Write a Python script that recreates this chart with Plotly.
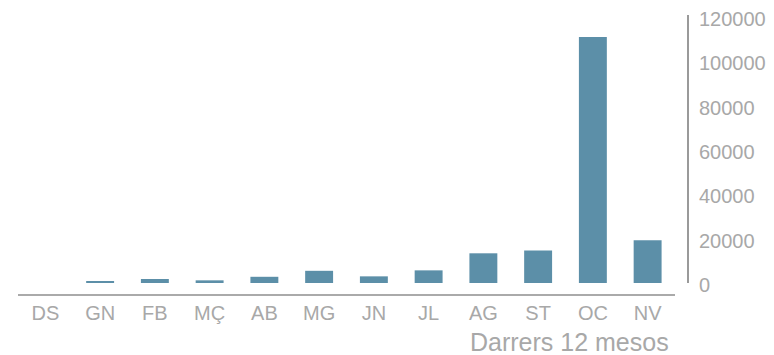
import plotly.graph_objects as go

# Monthly totals for the last twelve months
months = ["DS", "GN", "FB", "MÇ", "AB", "MG", "JN", "JL", "AG", "ST", "OC", "NV"]
values = [0, 500, 1800, 1200, 2800, 5500, 3000, 5700, 13400, 14700, 111000, 19300]
y_ticks = [0, 20000, 40000, 60000, 80000, 100000, 120000]

W, H = 774, 355
ML, MR, MT, MB = 18, 84, 15, 60
plot_w = W - ML - MR
plot_h = H - MT - MB

FONT = "Liberation Sans"
GREY = "#a8a8a8"

fig = go.Figure(
    go.Bar(
        x=months,
        y=values,
        marker=dict(color="#5c8fa8", line=dict(width=0)),
        width=0.51,
    )
)

fig.update_layout(
    template="none",
    width=W,
    height=H,
    margin=dict(l=ML, r=MR, t=MT, b=MB, pad=0),
    paper_bgcolor="white",
    plot_bgcolor="white",
    showlegend=False,
    font=dict(family=FONT, color=GREY, size=20),
    xaxis=dict(
        domain=[0, 657 / plot_w],
        anchor="free",
        position=0,
        automargin=False,
        showline=True,
        linecolor="#aaaaaa",
        linewidth=2,
        showgrid=False,
        zeroline=False,
        ticks="",
        tickfont=dict(size=20, color=GREY),
        fixedrange=True,
    ),
    yaxis=dict(
        domain=[12 / plot_h, 1],
        range=[0, 120900],
        side="right",
        anchor="free",
        position=(688 - ML) / plot_w,
        automargin=False,
        showline=True,
        linecolor="#9a9a9a",
        linewidth=2,
        showgrid=False,
        zeroline=False,
        ticks="",
        tickvals=y_ticks,
        ticktext=[str(v) for v in y_ticks],
        ticklabelstandoff=6,
        ticklabelshift=2,
        tickfont=dict(size=20, color=GREY),
        fixedrange=True,
    ),
    annotations=[
        dict(
            text="Darrers 12 mesos",
            xref="paper",
            yref="paper",
            x=(671 - ML) / plot_w,
            y=-(342 - (H - MB)) / plot_h,
            xanchor="right",
            yanchor="middle",
            showarrow=False,
            font=dict(size=25, color=GREY, family=FONT),
        )
    ],
)

fig.write_html("out.html")
